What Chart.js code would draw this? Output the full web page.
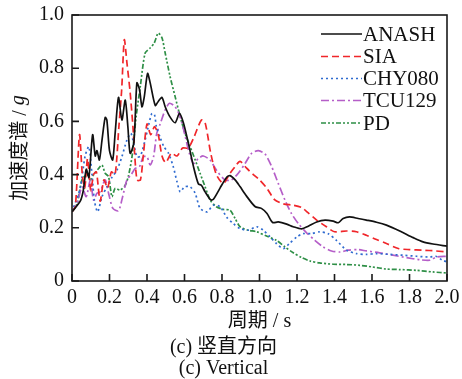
<!DOCTYPE html>
<html>
<head>
<meta charset="utf-8">
<script src="https://cdn.jsdelivr.net/npm/chart.js@4/dist/chart.umd.min.js"></script>
<style>
html,body{margin:0;padding:0;background:#fff;}
#wrap{width:462px;height:379px;}
</style>
</head>
<body>
<div id="wrap"><canvas id="c" width="462" height="379"></canvas></div>
<script>
// ---- data (period in s, spectral acceleration in g) ----
const seriesNames = ['ANASH', 'SIA', 'CHY080', 'TCU129', 'PD'];

const anashT = [0, 0.044, 0.06, 0.076, 0.09, 0.11, 0.124, 0.133, 0.146, 0.16, 0.177, 0.186, 0.2, 0.217, 0.23, 0.248, 0.266, 0.284, 0.298, 0.31, 0.33, 0.346, 0.36, 0.373, 0.385, 0.403, 0.417, 0.444, 0.46, 0.48, 0.497, 0.52, 0.55, 0.573, 0.594, 0.62, 0.648, 0.674, 0.69, 0.71, 0.74, 0.754, 0.79, 0.825, 0.843, 0.87, 0.896, 0.93, 0.976, 1.01, 1.04, 1.07, 1.1, 1.145, 1.18, 1.225, 1.26, 1.305, 1.35, 1.393, 1.42, 1.446, 1.48, 1.526, 1.57, 1.624, 1.677, 1.748, 1.82, 1.872, 1.925, 2.0];
const anashA = [0.26, 0.30, 0.34, 0.42, 0.39, 0.55, 0.47, 0.49, 0.455, 0.53, 0.615, 0.605, 0.49, 0.455, 0.555, 0.69, 0.605, 0.68, 0.58, 0.48, 0.52, 0.745, 0.72, 0.655, 0.69, 0.78, 0.745, 0.66, 0.675, 0.69, 0.655, 0.62, 0.595, 0.63, 0.595, 0.52, 0.43, 0.365, 0.36, 0.335, 0.305, 0.307, 0.35, 0.39, 0.396, 0.38, 0.355, 0.32, 0.28, 0.273, 0.254, 0.22, 0.222, 0.214, 0.204, 0.196, 0.206, 0.222, 0.229, 0.225, 0.219, 0.235, 0.241, 0.235, 0.229, 0.221, 0.21, 0.188, 0.163, 0.147, 0.139, 0.131];

const siaT = [0, 0.018, 0.04, 0.055, 0.068, 0.083, 0.1, 0.115, 0.13, 0.15, 0.17, 0.19, 0.21, 0.23, 0.25, 0.265, 0.279, 0.293, 0.31, 0.325, 0.346, 0.365, 0.38, 0.4, 0.42, 0.44, 0.46, 0.48, 0.5, 0.53, 0.56, 0.59, 0.62, 0.65, 0.69, 0.71, 0.74, 0.77, 0.807, 0.843, 0.87, 0.896, 0.93, 0.967, 1.0, 1.04, 1.08, 1.127, 1.18, 1.225, 1.26, 1.305, 1.357, 1.4, 1.464, 1.517, 1.57, 1.624, 1.677, 1.74, 1.8, 1.87, 1.94, 2.0];
const siaA = [0.26, 0.28, 0.55, 0.40, 0.35, 0.46, 0.34, 0.40, 0.41, 0.30, 0.38, 0.35, 0.41, 0.40, 0.58, 0.72, 0.907, 0.82, 0.71, 0.58, 0.38, 0.38, 0.47, 0.59, 0.55, 0.58, 0.55, 0.47, 0.445, 0.48, 0.47, 0.50, 0.50, 0.54, 0.605, 0.595, 0.48, 0.40, 0.367, 0.405, 0.43, 0.45, 0.425, 0.40, 0.38, 0.348, 0.306, 0.29, 0.285, 0.276, 0.256, 0.229, 0.204, 0.185, 0.188, 0.185, 0.172, 0.156, 0.141, 0.122, 0.118, 0.116, 0.113, 0.109];

const chyT = [0, 0.044, 0.07, 0.09, 0.106, 0.12, 0.137, 0.16, 0.186, 0.213, 0.24, 0.266, 0.293, 0.314, 0.328, 0.346, 0.365, 0.39, 0.41, 0.426, 0.44, 0.45, 0.47, 0.49, 0.515, 0.54, 0.56, 0.577, 0.6, 0.63, 0.657, 0.683, 0.72, 0.754, 0.79, 0.825, 0.86, 0.896, 0.94, 0.985, 1.02, 1.056, 1.09, 1.127, 1.16, 1.2, 1.233, 1.278, 1.32, 1.366, 1.41, 1.464, 1.517, 1.57, 1.624, 1.695, 1.766, 1.837, 1.908, 1.94, 1.976, 2.0];
const chyA = [0.26, 0.35, 0.47, 0.505, 0.405, 0.30, 0.26, 0.317, 0.354, 0.39, 0.417, 0.467, 0.53, 0.555, 0.52, 0.467, 0.47, 0.53, 0.59, 0.63, 0.625, 0.58, 0.54, 0.505, 0.48, 0.43, 0.373, 0.335, 0.354, 0.354, 0.33, 0.273, 0.26, 0.285, 0.279, 0.24, 0.216, 0.197, 0.191, 0.204, 0.191, 0.166, 0.141, 0.122, 0.141, 0.166, 0.178, 0.178, 0.185, 0.178, 0.153, 0.116, 0.103, 0.1, 0.103, 0.1, 0.097, 0.093, 0.09, 0.093, 0.078, 0.072];

const tcuT = [0, 0.027, 0.053, 0.076, 0.098, 0.115, 0.133, 0.15, 0.177, 0.195, 0.218, 0.248, 0.27, 0.293, 0.316, 0.337, 0.36, 0.38, 0.4, 0.417, 0.435, 0.452, 0.47, 0.497, 0.52, 0.55, 0.577, 0.6, 0.626, 0.648, 0.674, 0.7, 0.736, 0.77, 0.816, 0.85, 0.887, 0.923, 0.958, 0.994, 1.03, 1.065, 1.1, 1.136, 1.17, 1.207, 1.25, 1.295, 1.34, 1.384, 1.43, 1.473, 1.526, 1.57, 1.64, 1.712, 1.783, 1.855, 1.908, 1.943, 2.0];
const tcuA = [0.26, 0.29, 0.354, 0.317, 0.38, 0.304, 0.33, 0.335, 0.38, 0.33, 0.273, 0.264, 0.317, 0.38, 0.40, 0.423, 0.43, 0.467, 0.467, 0.436, 0.467, 0.555, 0.59, 0.643, 0.668, 0.655, 0.618, 0.555, 0.48, 0.442, 0.461, 0.47, 0.455, 0.417, 0.38, 0.38, 0.405, 0.442, 0.48, 0.49, 0.477, 0.43, 0.367, 0.304, 0.254, 0.216, 0.182, 0.153, 0.128, 0.113, 0.109, 0.116, 0.118, 0.113, 0.106, 0.097, 0.088, 0.08, 0.078, 0.09, 0.093];

const pdT = [0, 0.027, 0.053, 0.08, 0.098, 0.115, 0.142, 0.16, 0.177, 0.195, 0.213, 0.23, 0.257, 0.284, 0.3, 0.32, 0.342, 0.364, 0.39, 0.417, 0.438, 0.46, 0.48, 0.497, 0.523, 0.55, 0.577, 0.603, 0.63, 0.657, 0.683, 0.71, 0.737, 0.77, 0.807, 0.843, 0.87, 0.896, 0.94, 0.985, 1.04, 1.09, 1.136, 1.18, 1.225, 1.27, 1.32, 1.393, 1.464, 1.535, 1.6, 1.677, 1.748, 1.837, 1.925, 2.0];
const pdA = [0.26, 0.29, 0.38, 0.40, 0.38, 0.40, 0.423, 0.436, 0.405, 0.392, 0.317, 0.348, 0.342, 0.36, 0.392, 0.467, 0.618, 0.73, 0.857, 0.876, 0.894, 0.932, 0.914, 0.857, 0.769, 0.693, 0.618, 0.555, 0.505, 0.455, 0.405, 0.354, 0.304, 0.279, 0.269, 0.266, 0.235, 0.204, 0.191, 0.185, 0.168, 0.153, 0.128, 0.106, 0.088, 0.075, 0.068, 0.063, 0.062, 0.059, 0.053, 0.045, 0.043, 0.04, 0.034, 0.03];

const xTickValues = [0, 0.2, 0.4, 0.6, 0.8, 1.0, 1.2, 1.4, 1.6, 1.8, 2.0];
const yTickValues = [0, 0.2, 0.4, 0.6, 0.8, 1.0];
const xTitle = '周期 / s';
const yTitleMain = '加速度谱 / ';
const yTitleUnit = 'g';
const captionLines = ['(c) 竖直方向', '(c) Vertical'];

// ---- styles ----
const SERIF = "'Liberation Serif', 'Times New Roman', 'Noto Sans CJK SC', serif";
const colors = ['#111111', '#f0262a', '#2f6bd0', '#b55ec8', '#2e8f46'];
const dashes = [[], [7, 4], [2, 3], [8, 3, 2, 3], [5, 2, 2, 2, 2, 2]];

function pts(t, a) { return t.map((v, i) => ({x: v, y: a[i]})); }
const seriesData = [pts(anashT, anashA), pts(siaT, siaA), pts(chyT, chyA), pts(tcuT, tcuA), pts(pdT, pdA)];

const datasets = seriesNames.map((n, i) => ({
  label: n,
  data: seriesData[i],
  borderColor: colors[i],
  borderWidth: 1.7,
  borderDash: dashes[i],
  pointRadius: 0,
  tension: 0.25,
  fill: false
}));

function fmt(v) { return v === 0 ? '0' : v.toFixed(1); }

const framePlugin = {
  id: 'frame',
  afterDraw(chart) {
    const {ctx, chartArea: a, scales} = chart;
    ctx.save();
    ctx.strokeStyle = '#1a1a1a';
    ctx.lineWidth = 1.6;
    ctx.setLineDash([]);
    ctx.strokeRect(a.left, a.top, a.right - a.left, a.bottom - a.top);
    // inward ticks
    ctx.beginPath();
    xTickValues.forEach(v => {
      const px = scales.x.getPixelForValue(v);
      ctx.moveTo(px, a.bottom); ctx.lineTo(px, a.bottom - 7);
    });
    yTickValues.forEach(v => {
      const py = scales.y.getPixelForValue(v);
      ctx.moveTo(a.left, py); ctx.lineTo(a.left + 7, py);
    });
    ctx.stroke();
    // legend
    const lx0 = 321, lx1 = 362, tx = 363;
    const rows = [34, 56.5, 78.5, 100.5, 123];
    ctx.font = '21px ' + SERIF;
    ctx.textBaseline = 'middle';
    ctx.textAlign = 'left';
    chart.data.datasets.forEach((ds, i) => {
      ctx.strokeStyle = ds.borderColor;
      ctx.lineWidth = 1.7;
      ctx.setLineDash(ds.borderDash);
      ctx.beginPath();
      ctx.moveTo(lx0, rows[i]); ctx.lineTo(lx1, rows[i]);
      ctx.stroke();
      ctx.fillStyle = '#111';
      ctx.fillText(ds.label, tx, rows[i] + 1);
    });
    ctx.setLineDash([]);
    // y title with italic unit
    ctx.save();
    ctx.translate(21, (a.top + a.bottom) / 2);
    ctx.rotate(-Math.PI / 2);
    ctx.font = '20px ' + SERIF;
    const w1 = ctx.measureText(yTitleMain).width;
    ctx.font = 'italic 20px ' + SERIF;
    const w2 = ctx.measureText(yTitleUnit).width;
    const start = -(w1 + w2) / 2;
    ctx.fillStyle = '#111';
    ctx.textBaseline = 'middle';
    ctx.font = '20px ' + SERIF;
    ctx.fillText(yTitleMain, start, 0);
    ctx.font = 'italic 20px ' + SERIF;
    ctx.fillText(yTitleUnit, start + w1, -2);
    ctx.restore();
    ctx.restore();
  }
};

new Chart(document.getElementById('c'), {
  type: 'line',
  data: {datasets},
  options: {
    responsive: false,
    animation: false,
    layout: {padding: {left: 0, right: 15, top: 15, bottom: 0}},
    plugins: {
      legend: {display: false},
      tooltip: {enabled: false},
      title: {
        display: true,
        position: 'bottom',
        text: captionLines,
        color: '#111',
        font: {family: SERIF, size: 20, weight: 'normal', lineHeight: 1.05},
        padding: {top: 0, bottom: 0}
      }
    },
    scales: {
      x: {
        type: 'linear',
        min: 0, max: 2.0,
        grid: {display: false, drawTicks: false},
        border: {display: false},
        afterBuildTicks(s) { s.ticks = xTickValues.map(v => ({value: v})); },
        afterFit(s) { s.height = 56; s.paddingLeft = 0; s.paddingRight = 0; },
        ticks: {
          color: '#111', padding: 5, maxRotation: 0, autoSkip: false,
          font: {family: SERIF, size: 20},
          callback: v => fmt(v)
        },
        title: {
          display: true, text: xTitle, color: '#111',
          font: {family: SERIF, size: 20, lineHeight: 1.05},
          padding: {top: 0, bottom: 5}
        }
      },
      y: {
        type: 'linear',
        min: 0, max: 1.0,
        grid: {display: false, drawTicks: false},
        border: {display: false},
        afterBuildTicks(s) { s.ticks = yTickValues.map(v => ({value: v})); },
        afterFit(s) { s.width = 72; s.paddingTop = 0; s.paddingBottom = 0; },
        ticks: {
          color: '#111', padding: 8, autoSkip: false,
          font: {family: SERIF, size: 20},
          callback: v => fmt(v)
        }
      }
    }
  },
  plugins: [framePlugin]
});
</script>
</body>
</html>
